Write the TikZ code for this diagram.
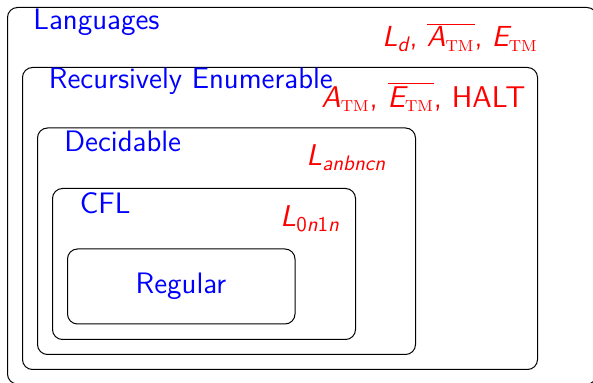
\documentclass[tikz,border=0pt]{standalone}
% slanted sans letter with a sans subscript
\newcommand{\sv}[1]{{\slshape #1}}
\newcommand{\subtxt}[1]{$_{\mbox{\fontsize{10.5}{12}\selectfont #1}}$}
\newcommand{\tmsub}{$_{\mbox{\fontsize{8}{9}\selectfont\rmfamily\upshape TM}}$}
\begin{document}
\begin{tikzpicture}[x=0.5pt,y=-0.5pt,
  classbox/.style={draw=black, line width=0.5pt, rounded corners=5pt},
  classname/.style={anchor=base west, inner sep=0pt, text=blue,
    font=\fontsize{14.8}{17}\selectfont\sffamily},
  member/.style={anchor=base west, inner sep=0pt, text=red,
    font=\fontsize{15}{17}\selectfont\sffamily},
  membersmall/.style={member, font=\fontsize{14.5}{16}\selectfont\sffamily}]
  \useasboundingbox (0,0) rectangle (593,383);

  % nested language classes
  \draw[classbox] (7.5,7.5) rectangle (597,384);
  \draw[classbox] (22.5,67.5) rectangle (537.5,369.5);
  \draw[classbox] (37.5,128) rectangle (415.5,354.5);
  \draw[classbox] (52.5,188.5) rectangle (355.5,339.5);
  \draw[classbox] (67.5,249) rectangle (295,324);

  % class names
  \node[classname] (lang) at (33,29.3) {Languages};
  \node[classname] (re)   at (48.5,88.3) {Recursively Enumerable};
  \node[classname] (dec)  at (64,151.5) {Decidable};
  \node[classname] (cfl)  at (79.5,213.3) {CFL};
  \node[classname, anchor=base] (reg) at (181,293.3) {Regular};

  % example languages in each class
  \node[membersmall] (ex1) at (382,47)
    {\sv{L}\subtxt{\slshape d}, $\overline{\mbox{\sv{A}\tmsub}}$, \sv{E}\tmsub};
  \node[member] (ex2) at (321,107.3)
    {\sv{A}\tmsub, $\overline{\mbox{\sv{E}\tmsub}}$, HALT};
  \node[member] (ex3) at (306,166)
    {\sv{L}\subtxt{\slshape anbncn}};
  \node[member] (ex4) at (280,226.7)
    {\sv{L}\subtxt{0{\slshape n}1{\slshape n}}};
\end{tikzpicture}
\end{document}
